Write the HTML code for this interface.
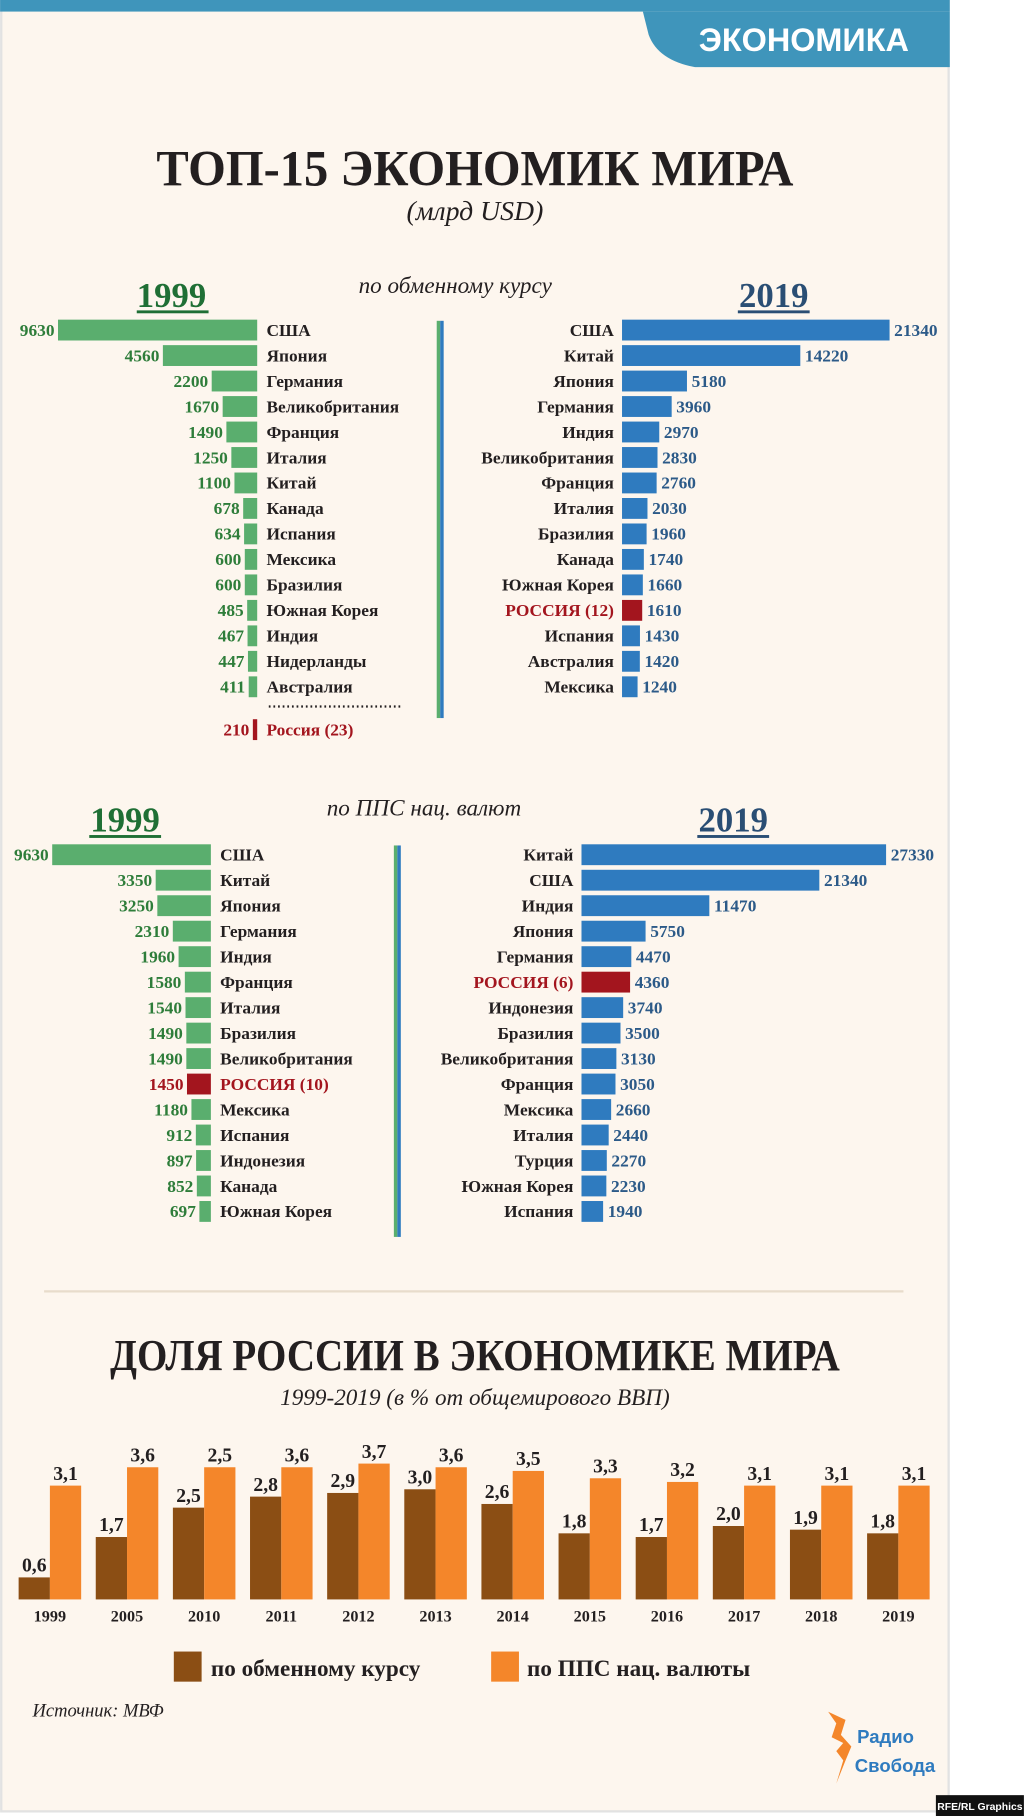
<!DOCTYPE html>
<html><head><meta charset="utf-8"><style>
html,body{margin:0;padding:0;background:#fff;}
svg{display:block;font-family:"Liberation Serif","Noto Serif CJK SC",serif;}
</style></head><body>
<svg id="chart" width="1024" height="1816" viewBox="0 0 884 1568" xmlns="http://www.w3.org/2000/svg">
<rect x="0" y="0" width="884" height="1568" fill="#ffffff"/>
<rect x="1" y="0" width="818" height="1564" fill="#fdf6ee" stroke="#e2e2e2" stroke-width="2"/>
<rect x="0" y="0" width="820" height="10" fill="#3f95bb"/>
<path d="M555 10 L820 10 L820 58 L600 58 Q568 52 560 30 Z" fill="#3f95bb"/>
<text x="694" y="44" text-anchor="middle" font-family="Liberation Sans, sans-serif" font-weight="bold" font-size="28" fill="#fff">ЭКОНОМИКА</text>
<text x="410" y="160" text-anchor="middle" font-weight="bold" font-size="44" fill="#231f20" textLength="550" lengthAdjust="spacingAndGlyphs">ТОП-15 ЭКОНОМИК МИРА</text>
<text x="410" y="190" text-anchor="middle" font-style="italic" font-size="24" fill="#231f20">(млрд USD)</text>

<text x="148" y="265" text-anchor="middle" font-weight="bold" font-size="30" fill="#1f6f35">1999</text>
<rect x="118" y="268" width="62" height="2.5" fill="#1f6f35"/>
<text x="393" y="253" text-anchor="middle" font-style="italic" font-size="20" fill="#231f20">по обменному курсу</text>
<text x="668" y="265" text-anchor="middle" font-weight="bold" font-size="30" fill="#2a4e74">2019</text>
<rect x="637" y="268" width="62" height="2.5" fill="#2a4e74"/>
<rect x="377" y="277" width="3" height="343" fill="#5aae6e"/>
<rect x="380" y="277" width="3" height="343" fill="#2f7bbf"/>
<line x1="232" y1="610" x2="346" y2="610" stroke="#231f20" stroke-width="2" stroke-dasharray="1.5 2.5"/>

<text x="108" y="718" text-anchor="middle" font-weight="bold" font-size="30" fill="#1f6f35">1999</text>
<rect x="77" y="721" width="62" height="2.5" fill="#1f6f35"/>
<text x="366" y="704" text-anchor="middle" font-style="italic" font-size="20" fill="#231f20">по ППС нац. валют</text>
<text x="633" y="718" text-anchor="middle" font-weight="bold" font-size="30" fill="#2a4e74">2019</text>
<rect x="602" y="721" width="62" height="2.5" fill="#2a4e74"/>
<rect x="340" y="730" width="3" height="338" fill="#5aae6e"/>
<rect x="343" y="730" width="3" height="338" fill="#2f7bbf"/>

<line x1="38" y1="1115" x2="780" y2="1115" stroke="#e8dccb" stroke-width="2"/>
<text x="410" y="1183" text-anchor="middle" font-weight="bold" font-size="38" fill="#231f20" textLength="630" lengthAdjust="spacingAndGlyphs">ДОЛЯ РОССИИ В ЭКОНОМИКЕ МИРА</text>
<text x="410" y="1213" text-anchor="middle" font-style="italic" font-size="20" fill="#231f20">1999-2019 (в % от общемирового ВВП)</text>

<rect x="150" y="1426" width="24" height="26" fill="#8b4e14"/>
<text x="182" y="1447" font-weight="bold" font-size="20" fill="#231f20">по обменному курсу</text>
<rect x="424" y="1426" width="24" height="26" fill="#f4862a"/>
<text x="455" y="1447" font-weight="bold" font-size="20" fill="#231f20">по ППС нац. валюты</text>

<text x="28" y="1482" font-style="italic" font-size="16" fill="#231f20">Источник: МВФ</text>
<g>
<path d="M715 1478 L722 1488 L718 1500 L728 1505 L722 1512 L728 1520 L722 1540 L730 1520 L735 1508 L726 1498 L730 1485 Z" fill="#f4862a"/>
<text x="740" y="1505" font-family="Liberation Sans, sans-serif" font-weight="bold" font-size="16" fill="#2f7bbf">Радио</text>
<text x="738" y="1530" font-family="Liberation Sans, sans-serif" font-weight="bold" font-size="16" fill="#2f7bbf">Свобода</text>
</g>
<rect x="808" y="1550" width="76" height="18" fill="#111"/>
<text x="846" y="1563" text-anchor="middle" font-family="Liberation Sans, sans-serif" font-weight="bold" font-size="9" fill="#fff">RFE/RL Graphics</text>
<g id="dyn"></g>
</svg>
<script>
const ex1999Names = ["США","Япония","Германия","Великобритания","Франция","Италия","Китай","Канада","Испания","Мексика","Бразилия","Южная Корея","Индия","Нидерланды","Австралия"];
const ex1999Values = [9630,4560,2200,1670,1490,1250,1100,678,634,600,600,485,467,447,411];
const ex1999Russia = [210];
const ex2019Names = ["США","Китай","Япония","Германия","Индия","Великобритания","Франция","Италия","Бразилия","Канада","Южная Корея","РОССИЯ (12)","Испания","Австралия","Мексика"];
const ex2019Values = [21340,14220,5180,3960,2970,2830,2760,2030,1960,1740,1660,1610,1430,1420,1240];
const ppp1999Names = ["США","Китай","Япония","Германия","Индия","Франция","Италия","Бразилия","Великобритания","РОССИЯ (10)","Мексика","Испания","Индонезия","Канада","Южная Корея"];
const ppp1999Values = [9630,3350,3250,2310,1960,1580,1540,1490,1490,1450,1180,912,897,852,697];
const ppp2019Names = ["Китай","США","Индия","Япония","Германия","РОССИЯ (6)","Индонезия","Бразилия","Великобритания","Франция","Мексика","Италия","Турция","Южная Корея","Испания"];
const ppp2019Values = [27330,21340,11470,5750,4470,4360,3740,3500,3130,3050,2660,2440,2270,2230,1940];
const shareYears = ["1999","2005","2010","2011","2012","2013","2014","2015","2016","2017","2018","2019"];
const shareExchange = [0.6,1.7,2.5,2.8,2.9,3.0,2.6,1.8,1.7,2.0,1.9,1.8];
const sharePPP = [3.1,3.6,3.6,3.6,3.7,3.6,3.5,3.3,3.2,3.1,3.1,3.1];
const sharePPPLabels = ["3,1","3,6","2,5","3,6","3,7","3,6","3,5","3,3","3,2","3,1","3,1","3,1"];

const NS = "http://www.w3.org/2000/svg";
const root = document.getElementById("dyn");
function mk(tag, attrs, txt){
  const e = document.createElementNS(NS, tag);
  for (const k in attrs) e.setAttribute(k, attrs[k]);
  if (txt !== undefined) e.textContent = txt;
  root.appendChild(e);
  return e;
}
const RED = "#a3151e";
function isRu(n){ return /РОССИЯ|Россия/.test(n); }

function leftPanel(names, vals, edge, k, y0, key){
  names.forEach((n,i)=>{
    const cy = y0 + i*22;
    const w = vals[i]*k;
    const ru = isRu(n);
    const r = mk("rect",{x:edge-w,y:cy-9,width:w,height:18,fill:ru?RED:"#5aae6e"});
    
    
    const v = mk("text",{x:edge-w-3,y:cy+5,"text-anchor":"end","font-weight":"bold","font-size":15,fill:ru?RED:"#2e7d3a"}, String(vals[i]));
    
    
    const l = mk("text",{x:edge+8,y:cy+5,"font-weight":"bold","font-size":15,fill:ru?RED:"#231f20"}, n);
    
    
  });
}
function rightPanel(names, vals, edge, k, y0, key){
  names.forEach((n,i)=>{
    const cy = y0 + i*22;
    const w = vals[i]*k;
    const ru = isRu(n);
    const r = mk("rect",{x:edge,y:cy-9,width:w,height:18,fill:ru?RED:"#2f7bbf"});
    
    
    const v = mk("text",{x:edge+w+4,y:cy+5,"font-weight":"bold","font-size":15,fill:"#2c5a88"}, String(vals[i]));
    
    
    const l = mk("text",{x:edge-7,y:cy+5,"text-anchor":"end","font-weight":"bold","font-size":15,fill:ru?RED:"#231f20"}, n);
    
    
  });
}
leftPanel(ex1999Names, ex1999Values, 222, 172/9630, 285, 'exchange-1999');
leftPanel(["Россия (23)"], ex1999Russia, 222, 172/9630, 630, 'exchange-1999-russia');
rightPanel(ex2019Names, ex2019Values, 537, 231/21340, 285, 'exchange-2019');
leftPanel(ppp1999Names, ppp1999Values, 182, 137/9630, 738, 'ppp-1999');
rightPanel(ppp2019Names, ppp2019Values, 502, 263/27330, 738, 'ppp-2019');

const base = 1381, unit = 31.7, x0 = 16, pitch = 66.6, bw = 27;
shareYears.forEach((yr,i)=>{
  const gx = x0 + i*pitch;
  const h1 = shareExchange[i]*unit, h2 = sharePPP[i]*unit;
  const b1 = mk("rect",{x:gx,y:base-h1,width:bw,height:h1,fill:"#8b4e14"});
  
  
  const b2 = mk("rect",{x:gx+bw,y:base-h2,width:bw,height:h2,fill:"#f4862a"});
  
  
  const t1 = mk("text",{x:gx+bw/2,y:base-h1-5,"text-anchor":"middle","font-weight":"bold","font-size":17,fill:"#231f20"}, shareExchange[i].toFixed(1).replace('.',','));
  
  
  const t2 = mk("text",{x:gx+bw*1.5,y:base-h2-5,"text-anchor":"middle","font-weight":"bold","font-size":17,fill:"#231f20"}, sharePPPLabels[i]);
  
  
  const yl = mk("text",{x:gx+bw,y:base+19,"text-anchor":"middle","font-weight":"bold","font-size":14,fill:"#231f20"}, yr);
  
  
});
</script>
</body></html>
